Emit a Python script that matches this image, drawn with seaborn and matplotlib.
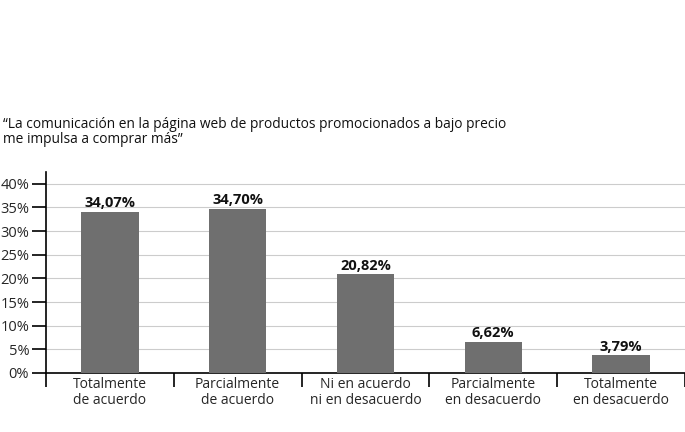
import numpy as np
import pandas as pd
import seaborn as sns
import matplotlib.pyplot as plt
from matplotlib.ticker import FixedLocator, FuncFormatter

categorias = ["Totalmente\nde acuerdo", "Parcialmente\nde acuerdo", "Ni en acuerdo\nni en desacuerdo",
              "Parcialmente\nen desacuerdo", "Totalmente\nen desacuerdo"]
valores = [34.07, 34.70, 20.82, 6.62, 3.79]
etiquetas = ["34,07%", "34,70%", "20,82%", "6,62%", "3,79%"]
titulo = "\u201cLa comunicaci\u00f3n en la p\u00e1gina web de productos promocionados a bajo precio\nme impulsa a comprar m\u00e1s\u201d"

df = pd.DataFrame({"Categoria": categorias, "Valor": valores})

sns.set_style("white")
plt.rcParams['font.family'] = ['Open Sans', 'DejaVu Sans']

fig = plt.figure(figsize=(6.85, 4.32), dpi=100)
ax = fig.add_axes([0.067, 0.1366, 0.933, 0.4654])

sns.barplot(data=df, x="Categoria", y="Valor", color="#6f6f6f", width=0.45, ax=ax,
            edgecolor="none", linewidth=0, zorder=3)

for bars in ax.containers:
    ax.bar_label(bars, labels=etiquetas, padding=1, fontsize=10.5, fontweight="bold", color="#111111")

ax.set_xlim(-0.5, 4.5)
ax.set_ylim(0, 42.5)
ax.set_yticks(np.arange(0, 41, 5))
ax.yaxis.set_major_formatter(FuncFormatter(lambda v, p: f"{int(v)}%"))
ax.grid(axis="y", color="#cccccc", linewidth=0.8, zorder=0)
ax.set_axisbelow(True)

ax.set_xlabel("")
ax.set_ylabel("")
ax.tick_params(axis="x", which="major", length=0, pad=3, labelsize=10)
ax.xaxis.set_minor_locator(FixedLocator(np.arange(-0.5, 4.6, 1)))
ax.tick_params(axis="x", which="minor", bottom=True, length=10, width=1.2, color="black", direction="out")
ax.tick_params(axis="y", left=True, length=10, width=1.2, color="black", direction="out", labelsize=10.5, pad=2)
for lbl in ax.get_xticklabels():
    lbl.set_linespacing(1.1)

for s in ["top", "right"]:
    ax.spines[s].set_visible(False)
ax.spines["left"].set_color("black")
ax.spines["left"].set_linewidth(1.2)
ax.spines["bottom"].set_color("black")
ax.spines["bottom"].set_linewidth(1.2)

fig.text(0.004, 0.73, titulo, fontsize=9.9, ha="left", va="top", color="#111111", linespacing=1.0)

fig.savefig("out.png", dpi=100)
